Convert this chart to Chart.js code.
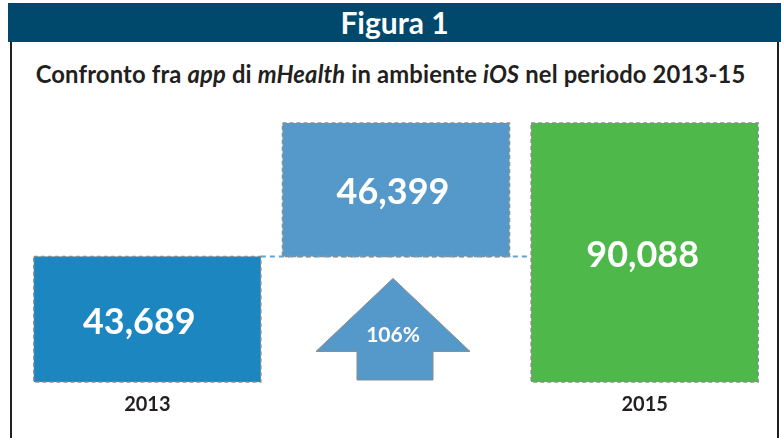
<!DOCTYPE html>
<html>
<head>
<meta charset="utf-8">
<script src="https://cdn.jsdelivr.net/npm/chart.js@4.4.0/dist/chart.umd.min.js"></script>
<style>
    body { margin: 0; background: #fff; }
    #wrap { position: relative; width: 781px; height: 438px; overflow: hidden; font-family: Lato, sans-serif; }
    #header {
        position: absolute; left: 8px; top: 3px; width: 773px; height: 39px;
        background: #00486c; color: #fff; font-weight: bold; font-size: 30px;
        text-align: center; line-height: 39px;
    }
    #borderL { position: absolute; left: 10px; top: 42px; width: 2px; height: 396px; background: #231f20; }
    #borderR { position: absolute; left: 777px; top: 42px; width: 2px; height: 396px; background: #231f20; }
    #title {
        position: absolute; left: 0; top: 61px; width: 781px; text-align: center;
        font-weight: bold; font-size: 23.8px; color: #231f20; line-height: 26px;
        letter-spacing: 0.15px;
    }
    #title i { font-style: italic; }
    #chartBox { position: absolute; left: 0; top: 0; width: 781px; height: 438px; }
</style>
</head>
<body>
<div id="wrap">
    <div id="header">Figura 1</div>
    <div id="borderL"></div>
    <div id="borderR"></div>
    <div id="title">Confronto fra <i>app</i> di <i>mHealth</i> in ambiente <i>iOS</i> nel periodo 2013-15</div>
    <div id="chartBox"><canvas id="grafico"></canvas></div>
</div>
<script>
// Dati
const categorie = ['2013', '', '2015'];
const inizioBarre = [0, 43689, 0];
const fineBarre = [43689, 90088, 90088];
const etichetteValori = ['43,689', '46,399', '90,088'];
const coloriBarre = ['#1c86c0', '#5599cb', '#4eb84a'];
const crescita = '106%';

// Bordo tratteggiato, linea di collegamento, freccia ed etichette
const decorazioni = {
    id: 'decorazioni',
    afterDatasetsDraw(chart) {
        const ctx = chart.ctx;
        const barre = chart.getDatasetMeta(0).data;
        const y = chart.scales.y;

        // linea tratteggiata al livello 2013
        const yLivello = y.getPixelForValue(fineBarre[0]);
        ctx.save();
        ctx.strokeStyle = '#5ea3d6';
        ctx.lineWidth = 2;
        ctx.setLineDash([5, 4]);
        ctx.beginPath();
        ctx.moveTo(barre[0].x + barre[0].width / 2, yLivello);
        ctx.lineTo(barre[2].x - barre[2].width / 2, yLivello);
        ctx.stroke();
        ctx.restore();

        // bordo tratteggiato delle barre
        barre.forEach(function (b) {
            const sx = b.x - b.width / 2;
            const top = Math.min(b.y, b.base);
            const h = Math.abs(b.base - b.y);
            ctx.save();
            ctx.strokeStyle = '#8c8c8c';
            ctx.lineWidth = 1.5;
            ctx.setLineDash([4, 3]);
            ctx.strokeRect(sx, top, b.width, h);
            ctx.restore();
        });

        // freccia verso l'alto sotto la barra centrale
        const cx = barre[1].x;
        const punta = yLivello + 22;
        const ali = punta + 73;
        const fondo = y.getPixelForValue(0) - 2;
        ctx.save();
        ctx.fillStyle = '#5599cb';
        ctx.strokeStyle = '#8a8a8a';
        ctx.lineWidth = 1;
        ctx.beginPath();
        ctx.moveTo(cx - 3, punta);
        ctx.lineTo(cx + 74, ali);
        ctx.lineTo(cx + 37, ali);
        ctx.lineTo(cx + 37, fondo);
        ctx.lineTo(cx - 39, fondo);
        ctx.lineTo(cx - 39, ali);
        ctx.lineTo(cx - 80, ali);
        ctx.closePath();
        ctx.fill();
        ctx.stroke();
        ctx.fillStyle = '#ffffff';
        ctx.font = 'bold 21px Lato';
        ctx.textAlign = 'center';
        ctx.textBaseline = 'middle';
        ctx.fillText(crescita, cx - 3, ali - 16);
        ctx.restore();

        // valori dentro le barre
        const spostamenti = [-8, -3, -2];
        ctx.save();
        ctx.fillStyle = '#ffffff';
        ctx.font = 'bold 36px Lato';
        ctx.textAlign = 'center';
        ctx.textBaseline = 'middle';
        barre.forEach(function (b, i) {
            ctx.fillText(etichetteValori[i], b.x + spostamenti[i], (b.y + b.base) / 2 + 3);
        });
        ctx.restore();
    }
};

document.addEventListener('DOMContentLoaded', function () {
    try {
        new Chart(document.getElementById('grafico'), {
            type: 'bar',
            data: {
                labels: categorie,
                datasets: [{
                    data: inizioBarre.map(function (v, i) { return [v, fineBarre[i]]; }),
                    backgroundColor: coloriBarre,
                    borderWidth: 0,
                    categoryPercentage: 1,
                    barPercentage: 0.913
                }]
            },
            options: {
                responsive: true,
                maintainAspectRatio: false,
                animation: false,
                layout: { padding: { left: 23, right: 12, top: 123, bottom: 10 } },
                plugins: {
                    legend: { display: false },
                    tooltip: { enabled: false }
                },
                scales: {
                    x: {
                        grid: { display: false, drawTicks: false },
                        border: { display: false },
                        ticks: {
                            color: '#231f20',
                            padding: 11,
                            font: { family: 'Lato', size: 20, weight: 'bold' }
                        }
                    },
                    y: {
                        display: false,
                        min: 0,
                        max: 90088
                    }
                }
            },
            plugins: [decorazioni]
        });
    } catch (error) {
        console.error('Errore nel grafico:', error);
    }
});
</script>
</body>
</html>
